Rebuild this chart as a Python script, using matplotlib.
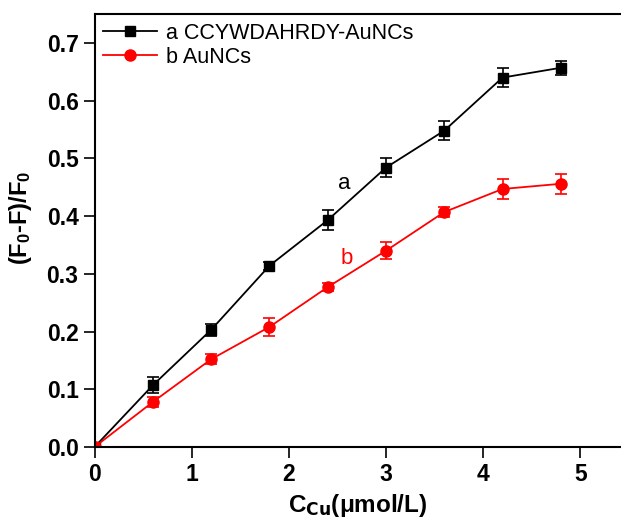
import matplotlib
matplotlib.use("Agg")
import matplotlib.pyplot as plt
from matplotlib.lines import Line2D

conc = [0, 0.6, 1.2, 1.8, 2.4, 3.0, 3.6, 4.2, 4.8]
a_vals = [0, 0.107, 0.203, 0.314, 0.393, 0.484, 0.548, 0.640, 0.657]
a_err = [0, 0.014, 0.010, 0.007, 0.017, 0.017, 0.017, 0.017, 0.012]
b_vals = [0, 0.078, 0.152, 0.208, 0.277, 0.340, 0.407, 0.447, 0.456]
b_err = [0, 0.008, 0.009, 0.015, 0.007, 0.015, 0.009, 0.018, 0.017]
xticks = [0, 1, 2, 3, 4, 5]
yticks = [0.0, 0.1, 0.2, 0.3, 0.4, 0.5, 0.6, 0.7]
labels = ['a CCYWDAHRDY-AuNCs', 'b AuNCs']

plt.rcParams['font.family'] = ['Liberation Sans', 'DejaVu Sans']
plt.rcParams['mathtext.default'] = 'regular'

fig = plt.figure(figsize=(6.21, 5.22), dpi=100)
ax = fig.add_axes([0.1523, 0.1437, 0.8477, 0.8293])

ax.errorbar(conc, a_vals, yerr=a_err, color='black', marker='s', markersize=7,
            linewidth=1.3, capsize=4, elinewidth=1.2, capthick=1.2)
ax.errorbar(conc, b_vals, yerr=b_err, color='red', marker='o', markersize=8,
            linewidth=1.3, capsize=4, elinewidth=1.2, capthick=1.2)

ax.text(2.57, 0.457, 'a', color='black', fontsize=16, ha='center', va='center')
ax.text(2.6, 0.326, 'b', color='red', fontsize=16, ha='center', va='center')

ax.set_xlim(0, 5.42)
ax.set_ylim(0, 0.75)
ax.set_xticks(xticks)
ax.set_yticks(yticks)
ax.set_yticklabels([f'{v:.1f}' for v in yticks])
ax.tick_params(direction='out', length=8, width=1.2, labelsize=16.5)
for lab in ax.get_xticklabels() + ax.get_yticklabels():
    lab.set_fontweight('bold')
ax.spines['right'].set_visible(False)
for s in ['left', 'bottom', 'top']:
    ax.spines[s].set_linewidth(1.5)

ax.set_xlabel(r'$C_{\mathbf{Cu}}$(μmol/L)', fontsize=17.5, labelpad=4, fontweight='bold')
ax.set_ylabel(r'$(F_{0}$-$F)/F_{0}$', fontsize=17, fontweight='bold')
ax.yaxis.set_label_coords(-0.115, 0.53)

handles = [Line2D([], [], color='black', marker='s', markersize=7, linewidth=1.3),
           Line2D([], [], color='red', marker='o', markersize=8, linewidth=1.3)]
ax.legend(handles, labels, loc='upper left', frameon=False, fontsize=15.5,
          handlelength=2.5, borderaxespad=0.1, handletextpad=0.4,
          labelspacing=0.15, borderpad=0.3)

fig.savefig('out.png', dpi=100)
